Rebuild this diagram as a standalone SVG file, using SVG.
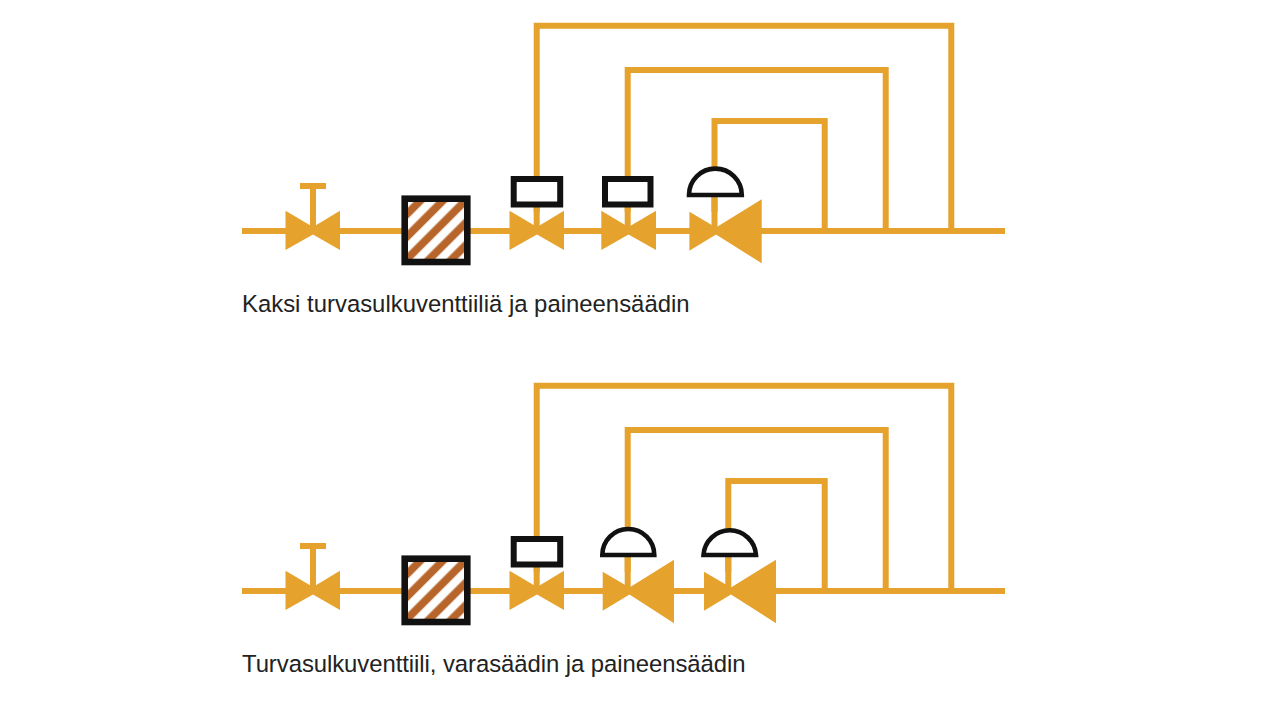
<svg xmlns="http://www.w3.org/2000/svg" width="1280" height="720" viewBox="0 0 1280 720">
<style>
.pipe{fill:none;stroke:#e5a22d;stroke-width:6;stroke-linejoin:miter}
.valve{fill:#e5a22d;stroke:none}
.stem{fill:none;stroke:#e5a22d;stroke-width:6}
.box{fill:#fff;stroke:#111;stroke-width:6}
.dome{fill:#fff;stroke:#111;stroke-width:4.600;stroke-linejoin:miter}
.filter{stroke:#111;stroke-width:6.600}
.label{font-family:"Liberation Sans",Arial,sans-serif;font-size:23.900px;fill:#222}
</style>
<defs>
<pattern id="hatch" patternUnits="userSpaceOnUse" width="15.900" height="15.900" patternTransform="translate(407.700 201.700) rotate(45)">
<rect width="15.900" height="15.900" fill="#fff"/>
<rect x="4.350" width="7.800" height="15.900" fill="#b7652a"/>
</pattern>
<pattern id="hatch2" patternUnits="userSpaceOnUse" width="15.900" height="15.900" patternTransform="translate(407.700 561.700) rotate(45)">
<rect width="15.900" height="15.900" fill="#fff"/>
<rect x="4.350" width="7.800" height="15.900" fill="#b7652a"/>
</pattern>
</defs>
<g id="connectors">
<path class="pipe" d="M242 231H1005"/>
<path class="pipe" d="M536.700 212V25.800H951.300V231"/>
<path class="pipe" d="M627.700 212V70H885.700V231"/>
<path class="pipe" d="M714.500 212V121H824.700V231"/>
<path class="pipe" d="M242 591H1005"/>
<path class="pipe" d="M536.700 572V385.800H951.300V591"/>
<path class="pipe" d="M627.700 572V430H885.700V591"/>
<path class="pipe" d="M728.300 572V481H824.700V591"/>
</g>
<g id="hand-valve-1">
<path class="valve" d="M285.500 210.700L313 227V234.500L285.500 250ZM340 210.700L313 227V234.500L340 250Z"/>
<path class="stem" d="M313 231V186"/><rect class="valve" x="300" y="183" width="26" height="6"/>
</g>
<g id="filter-1"><rect class="filter" fill="url(#hatch)" x="404.700" y="198.700" width="62.600" height="63.300"/></g>
<g id="shutoff-1a">
<path class="valve" d="M509.500 210.700L537 227V234.500L509.500 250ZM564 210.700L537 227V234.500L564 250Z"/>
<path class="stem" d="M536.700 231V205"/><rect class="box" x="513.700" y="179" width="46.500" height="25.500"/>
</g>
<g id="shutoff-1b">
<path class="valve" d="M601.300 210.700L628.500 227V234.500L601.300 250ZM656 210.700L628.500 227V234.500L656 250Z"/>
<path class="stem" d="M627.700 231V205"/><rect class="box" x="605" y="179" width="45.500" height="25.500"/>
</g>
<g id="regulator-1">
<path class="valve" d="M689.400 211.700L716 227.500V234.500L689.400 250.700ZM761.700 199.300L716 227.500V234.500L761.700 263.300Z"/>
<path class="stem" d="M714.500 231V195"/><path class="dome" d="M689 195A26.400 26.400 0 0 1 741.800 195Z"/>
</g>
<g id="caption-1"><text class="label" x="242" y="311.500">Kaksi turvasulkuventtiiliä ja paineensäädin</text></g>
<g id="hand-valve-2">
<path class="valve" d="M285.500 570.700L313 587V594.500L285.500 610ZM340 570.700L313 587V594.500L340 610Z"/>
<path class="stem" d="M313 591V546"/><rect class="valve" x="300" y="543" width="26" height="6"/>
</g>
<g id="filter-2"><rect class="filter" fill="url(#hatch2)" x="404.700" y="558.700" width="62.600" height="63.300"/></g>
<g id="shutoff-2">
<path class="valve" d="M509.500 570.700L537 587V594.500L509.500 610ZM564 570.700L537 587V594.500L564 610Z"/>
<path class="stem" d="M536.700 591V565"/><rect class="box" x="513.700" y="539" width="46.500" height="25.500"/>
</g>
<g id="regulator-2">
<path class="valve" d="M602.700 571.700L629.500 587.500V594.500L602.700 610.700ZM674 559.700L629.500 587.500V594.500L674 623.300Z"/>
<path class="stem" d="M627.700 591V555"/><path class="dome" d="M602.300 555A26 26 0 0 1 654.300 555Z"/>
</g>
<g id="regulator-3">
<path class="valve" d="M704 571.700L731 587.500V594.500L704 610.700ZM776 559.700L731 587.500V594.500L776 623.300Z"/>
<path class="stem" d="M728.300 591V555"/><path class="dome" d="M703.500 555A26.300 26.300 0 0 1 756 555Z"/>
</g>
<g id="caption-2"><text class="label" x="242" y="671.500" textLength="503.500" lengthAdjust="spacing">Turvasulkuventtiili, varasäädin ja paineensäädin</text></g>
</svg>
